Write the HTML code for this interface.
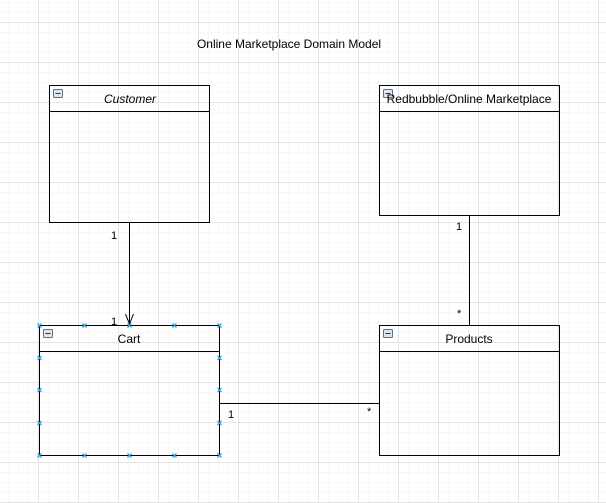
<!DOCTYPE html>
<html><head><style>
html,body{margin:0;padding:0;background:#fff;}
svg{display:block;}
text{font-family:"Liberation Sans",Arial,sans-serif;fill:#000;}
</style></head><body>
<svg width="606" height="503" viewBox="0 0 606 503" xmlns="http://www.w3.org/2000/svg">
<defs>
<pattern id="minor" width="10" height="10" patternUnits="userSpaceOnUse" x="-1" y="3">
<path d="M10 0V10M0 10H10" stroke="#f1f1f1" stroke-width="1" fill="none"/>
</pattern>
<pattern id="major" width="40" height="40" patternUnits="userSpaceOnUse" x="-1.5" y="-17.5">
<path d="M40 0V40M0 40H40" stroke="#d8d8d8" stroke-width="1" fill="none"/>
</pattern>
<g id="mini"><rect x="0.5" y="0.5" width="9" height="8" rx="1" fill="#dde6ef" stroke="#5a7088"/><line x1="2.5" y1="4.5" x2="7.5" y2="4.5" stroke="#333"/></g>
<g id="x"><path d="M-2 -2L2 2M-2 2L2 -2" stroke="#29a8e0" stroke-width="1.3"/></g>
</defs>
<rect width="606" height="503" fill="url(#minor)"/>
<rect width="606" height="503" fill="url(#major)"/>
<text x="289" y="48" font-size="12" text-anchor="middle">Online Marketplace Domain Model</text>

<g fill="none" stroke="#000" stroke-width="1">
<rect x="49.5" y="85.5" width="160" height="137"/><line x1="49.5" y1="111.5" x2="209.5" y2="111.5"/>
<rect x="379.5" y="85.5" width="180" height="130"/><line x1="379.5" y1="111.5" x2="559.5" y2="111.5"/>
<rect x="39.5" y="325.5" width="180" height="130"/><line x1="39.5" y1="351.5" x2="219.5" y2="351.5"/>
<rect x="379.5" y="325.5" width="180" height="130"/><line x1="379.5" y1="351.5" x2="559.5" y2="351.5"/>
<line x1="129.5" y1="222" x2="129.5" y2="325"/>
<path d="M125.5 314L129.5 324L133.5 314"/>
<line x1="469.5" y1="215" x2="469.5" y2="325"/>
<line x1="219.5" y1="403.5" x2="379.5" y2="403.5"/>
</g>
<use href="#mini" x="53" y="89"/>
<use href="#mini" x="383" y="89"/>
<use href="#mini" x="43" y="329"/>
<use href="#mini" x="383" y="329"/>
<text x="130" y="103" font-size="12" font-style="italic" text-anchor="middle">Customer</text>
<text x="469" y="103" font-size="12" text-anchor="middle">Redbubble/Online Marketplace</text>
<text x="129" y="343" font-size="12" text-anchor="middle">Cart</text>
<text x="469" y="343" font-size="12" text-anchor="middle">Products</text>
<text x="111" y="239" font-size="11">1</text>
<text x="111" y="325" font-size="11">1</text>
<text x="456" y="230" font-size="11">1</text>
<text x="457" y="317" font-size="11">*</text>
<text x="228" y="418" font-size="11">1</text>
<text x="367" y="415" font-size="11">*</text>
<g>
<use href="#x" x="39.5" y="325.5"/><use href="#x" x="84.5" y="325.5"/><use href="#x" x="129.5" y="325.5"/><use href="#x" x="174.5" y="325.5"/><use href="#x" x="219.5" y="325.5"/>
<use href="#x" x="39.5" y="455.5"/><use href="#x" x="84.5" y="455.5"/><use href="#x" x="129.5" y="455.5"/><use href="#x" x="174.5" y="455.5"/><use href="#x" x="219.5" y="455.5"/>
<use href="#x" x="39.5" y="358"/><use href="#x" x="39.5" y="390"/><use href="#x" x="39.5" y="423"/>
<use href="#x" x="219.5" y="358"/><use href="#x" x="219.5" y="390"/><use href="#x" x="219.5" y="423"/>
</g>
</svg>
</body></html>
